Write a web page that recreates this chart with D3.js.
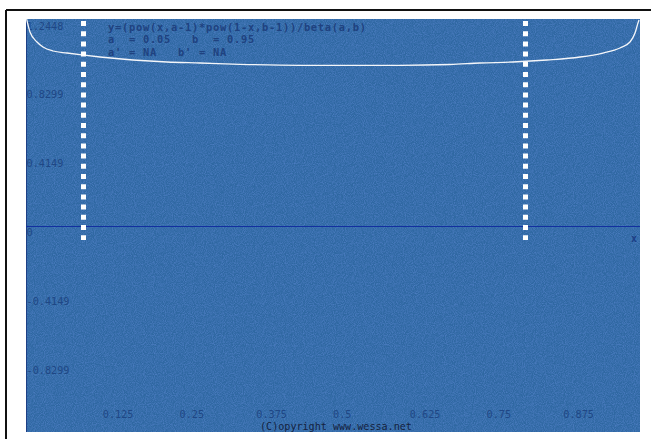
<!DOCTYPE html>
<html>
<head>
<meta charset="utf-8">
<script src="https://cdn.jsdelivr.net/npm/d3@7"></script>
<style>
  html, body { margin: 0; padding: 0; background: #ffffff; }
  svg { display: block; }
</style>
</head>
<body>
<svg id="chart" width="651" height="439"></svg>
<script>
// Beta density curve y=(x^(a-1)*(1-x)^(b-1))/B(a,b), a=0.05, b=0.95
const curveX = [0.001, 0.0065, 0.0179, 0.0277, 0.044, 0.0668, 0.0928, 0.1205, 0.1743, 0.2296,
                0.2834, 0.3485, 0.4463, 0.6091, 0.6906, 0.7394, 0.7932, 0.8485, 0.9023, 0.9397,
                0.9674, 0.9837, 0.9919, 0.9967, 0.9984];
const curveY = [1.2448, 1.1664, 1.1061, 1.076, 1.0519, 1.0398, 1.0277, 1.0157, 0.9976, 0.9855,
                0.9795, 0.9717, 0.9657, 0.9657, 0.9705, 0.9795, 0.9855, 0.9976, 1.0157, 1.0398,
                1.0699, 1.1061, 1.1603, 1.2206, 1.2387];

// dotted interval markers
const markerX = [0.0928, 0.8127];
const markerTop = 1.2327;
const markerBottom = -0.0874;

// axis tick values / labels
const yTicks = [1.2448, 0.8299, 0.4149, 0, -0.4149, -0.8299];
const yTickLabels = ["1.2448", "0.8299", "0.4149", "0", "-0.4149", "-0.8299"];
const xTicks = [0.125, 0.25, 0.375, 0.5, 0.625, 0.75, 0.875];
const xTickLabels = ["0.125", "0.25", "0.375", "0.5", "0.625", "0.75", "0.875"];

const formulaLines = [
  "y=(pow(x,a-1)*pow(1-x,b-1))/beta(a,b)",
  "a  = 0.05   b  = 0.95",
  "a' = NA   b' = NA"
];
const copyright = "(C)opyright www.wessa.net";

const plot = { left: 26, right: 640, top: 19, bottom: 432 };
const svg = d3.select("#chart");

const x = d3.scaleLinear().domain([0, 1]).range([plot.left, plot.right]);
const y = d3.scaleLinear().domain([-1.2448, 1.2448]).range([plot.bottom, plot.top]);

// grain texture for the plotting panel
const defs = svg.append("defs");
const grain = defs.append("filter").attr("id", "grain")
  .attr("x", 0).attr("y", 0).attr("width", 1).attr("height", 1);
grain.append("feTurbulence")
  .attr("type", "fractalNoise").attr("baseFrequency", 1.1)
  .attr("numOctaves", 1).attr("seed", 3).attr("result", "n");
grain.append("feColorMatrix").attr("in", "n").attr("type", "matrix")
  .attr("values", "0 0 0 0 0.22  0 0 0 0 0.36  0 0 0 0 0.95  1.6 0 0 0 -0.55");

// outer frame (top and left edges)
svg.append("line").attr("x1", 6).attr("x2", 651).attr("y1", 10).attr("y2", 10)
  .attr("stroke", "#111").attr("stroke-width", 2);
svg.append("line").attr("x1", 6).attr("x2", 6).attr("y1", 10).attr("y2", 439)
  .attr("stroke", "#111").attr("stroke-width", 2);

// panel background
svg.append("rect")
  .attr("x", plot.left).attr("y", plot.top)
  .attr("width", plot.right - plot.left).attr("height", plot.bottom - plot.top)
  .attr("fill", "#2f68a2");
svg.append("rect")
  .attr("x", plot.left).attr("y", plot.top)
  .attr("width", plot.right - plot.left).attr("height", plot.bottom - plot.top)
  .attr("fill", "#000").attr("filter", "url(#grain)").attr("opacity", 0.45);

const tickColor = "#1f4785";
const mono = "'DejaVu Sans Mono', 'Liberation Mono', monospace";

// left axis line
svg.append("line")
  .attr("x1", x(0) + 0.5).attr("x2", x(0) + 0.5)
  .attr("y1", plot.top).attr("y2", plot.bottom)
  .attr("stroke", "#1d3f86").attr("stroke-width", 1);

// zero line
svg.append("line")
  .attr("x1", plot.left).attr("x2", plot.right)
  .attr("y1", Math.round(y(0)) + 0.5).attr("y2", Math.round(y(0)) + 0.5)
  .attr("stroke", "#1230a0").attr("stroke-width", 1.2);

// y tick labels, hanging below their tick value
svg.append("g").selectAll("text").data(yTicks).join("text")
  .attr("x", x(0) + 0.5)
  .attr("y", d => y(d) + 10.5)
  .attr("font-family", mono).attr("font-size", 10.2)
  .attr("fill", tickColor)
  .text((d, i) => yTickLabels[i]);

// x tick labels, left-aligned at their tick value
svg.append("g").selectAll("text").data(xTicks).join("text")
  .attr("x", d => x(d))
  .attr("y", 418)
  .attr("font-family", mono).attr("font-size", 10.2)
  .attr("fill", tickColor)
  .text((d, i) => xTickLabels[i]);

// x axis name
svg.append("text")
  .attr("x", x(1) - 9).attr("y", y(0) + 16)
  .attr("font-family", mono).attr("font-size", 10)
  .attr("font-weight", "bold")
  .attr("fill", "#1c3f86").text("x");

// formula box, one line per text row
svg.append("g").selectAll("text").data(formulaLines).join("text")
  .attr("x", 108)
  .attr("y", (d, i) => 31 + i * 12.4)
  .attr("font-family", mono).attr("font-size", 10.4)
  .attr("letter-spacing", 0.74)
  .attr("font-weight", "bold")
  .attr("fill", "#1f4280")
  .attr("xml:space", "preserve")
  .style("white-space", "pre")
  .text(d => d);

// density curve
const pts = curveX.map((d, i) => [d, curveY[i]]);
svg.append("path")
  .datum(pts)
  .attr("fill", "none")
  .attr("stroke", "#f4f6fa")
  .attr("stroke-width", 1.3)
  .attr("d", d3.line().x(d => x(d[0])).y(d => y(d[1])).curve(d3.curveMonotoneX));

// dotted interval markers
svg.append("g").selectAll("line").data(markerX).join("line")
  .attr("x1", d => Math.round(x(d)) + 0.5)
  .attr("x2", d => Math.round(x(d)) + 0.5)
  .attr("y1", y(markerTop))
  .attr("y2", y(markerBottom))
  .attr("stroke", "#ffffff")
  .attr("stroke-width", 5)
  .attr("stroke-dasharray", "5 5.2");

// copyright line
svg.append("text")
  .attr("x", 260).attr("y", 429.5)
  .attr("font-family", mono).attr("font-size", 10.1)
  .attr("fill", "#15233f")
  .text(copyright);
</script>
</body>
</html>
